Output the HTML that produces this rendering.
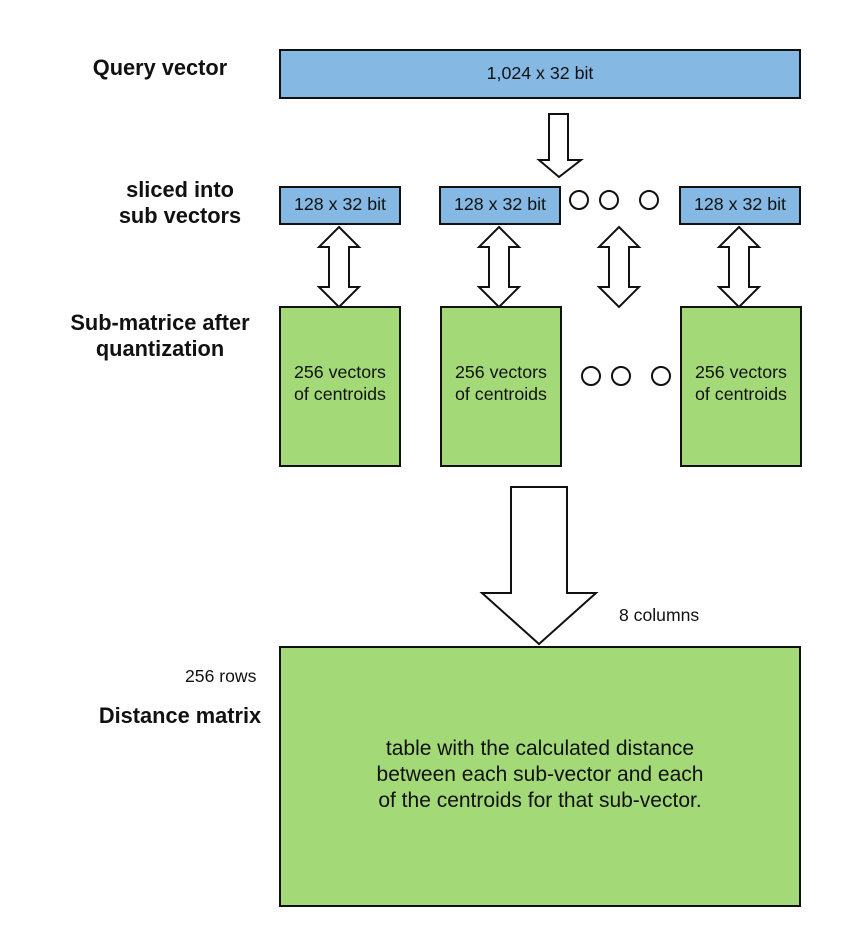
<!DOCTYPE html>
<html><head><style>
body{margin:0;background:#fff;width:841px;height:948px;overflow:hidden}
svg{display:block}
text{font-family:"Liberation Sans",sans-serif;fill:#111}
</style></head><body>
<svg width="841" height="948" viewBox="0 0 841 948">
<g stroke="#111" stroke-width="2">
<rect x="280" y="50" width="520" height="48" fill="#85b9e4"/>
<rect x="280" y="187" width="120" height="37" fill="#85b9e4"/>
<rect x="440" y="187" width="120" height="37" fill="#85b9e4"/>
<rect x="680" y="187" width="120" height="37" fill="#85b9e4"/>
<rect x="280" y="307" width="120" height="159" fill="#a3d977"/>
<rect x="441" y="307" width="120" height="159" fill="#a3d977"/>
<rect x="681" y="307" width="120" height="159" fill="#a3d977"/>
<rect x="280" y="647" width="520" height="259" fill="#a3d977"/>
<g fill="#fff">
<polygon points="549,114 568,114 568,160 581,160 559,177 539,160 549,160"/>
<polygon points="511,487 567,487 567,593 596,593 539,644 482,593 511,593"/>
<polygon points="339,227 359,247 349,247 349,287 359,287 339,307 319,287 329,287 329,247 319,247"/>
<polygon points="499,227 519,247 509,247 509,287 519,287 499,307 479,287 489,287 489,247 479,247"/>
<polygon points="619,227 639,247 629,247 629,287 639,287 619,307 599,287 609,287 609,247 599,247"/>
<polygon points="739,227 759,247 749,247 749,287 759,287 739,307 719,287 729,287 729,247 719,247"/>
<ellipse cx="579" cy="200" rx="9" ry="9"/><ellipse cx="609" cy="200" rx="9" ry="9"/><ellipse cx="649" cy="200" rx="9" ry="9"/>
<ellipse cx="591" cy="376" rx="9" ry="9"/><ellipse cx="621" cy="376" rx="9" ry="9"/><ellipse cx="661" cy="376" rx="9" ry="9"/>
</g></g>
<g font-size="17.8" text-anchor="middle">
<text x="540" y="79">1,024 x 32 bit</text>
<text x="340" y="210">128 x 32 bit</text>
<text x="500" y="210">128 x 32 bit</text>
<text x="740" y="210">128 x 32 bit</text>
<text x="340" y="378">256 vectors</text><text x="340" y="400">of centroids</text>
<text x="501" y="378">256 vectors</text><text x="501" y="400">of centroids</text>
<text x="741" y="378">256 vectors</text><text x="741" y="400">of centroids</text>
<text x="540" y="755" font-size="21">table with the calculated distance</text>
<text x="540" y="781" font-size="21">between each sub-vector and each</text>
<text x="540" y="807" font-size="21">of the centroids for that sub-vector.</text>
</g>
<g font-size="17.6">
<text x="619" y="621">8 columns</text>
<text x="185" y="682">256 rows</text>
</g>
<g font-size="21.8" font-weight="bold" text-anchor="middle">
<text x="160" y="75">Query vector</text>
<text x="180" y="197">sliced into</text>
<text x="180" y="223">sub vectors</text>
<text x="160" y="330">Sub-matrice after</text>
<text x="160" y="356">quantization</text>
<text x="180" y="723">Distance matrix</text>
</g>
</svg>
</body></html>
